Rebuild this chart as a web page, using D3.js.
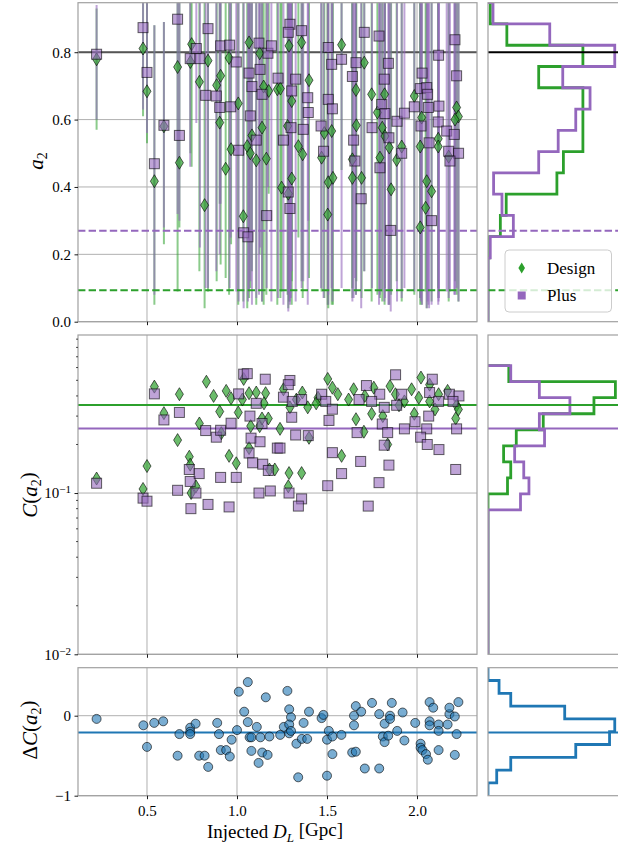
<!DOCTYPE html>
<html><head><meta charset="utf-8">
<script src="https://cdn.jsdelivr.net/npm/d3@7"></script>
<style>
html,body{margin:0;padding:0;background:#fff;}
svg text{font-family:"Liberation Serif","DejaVu Serif",serif;fill:#000;}
</style></head>
<body><svg id="c" width="618" height="852"></svg>
<script>
// ---------------- DATA ----------------
// a2 estimates: [D_L (Gpc), a2, lower end of bar, upper end of bar]
const designA2 = [
[0.22,0.779,0.57,0.93],[0.478,0.811,0.61,0.96],[0.50,0.684,0.53,0.96],[0.541,0.417,0.05,0.88],
[0.594,0.58,0.23,0.89],[0.67,0.756,0.09,0.97],[0.68,0.472,0.28,0.96],[0.748,0.824,0.46,0.96],
[0.741,0.771,0.50,0.96],[0.791,0.712,0.15,0.96],[0.82,0.346,0.04,0.96],[0.839,0.775,0.09,0.96],
[0.887,0.702,0.12,0.96],[0.909,0.73,0.17,0.96],[0.904,0.591,0.35,0.96],[0.937,0.454,0.13,0.96],
[0.956,0.783,0.08,0.96],[0.967,0.512,0.23,0.96],[1.007,0.648,0.05,0.96],[1.035,0.313,0.06,0.96],
[1.057,0.521,0.04,0.96],[1.067,0.829,0.07,0.96],[1.074,0.50,0.10,0.96],[1.107,0.479,0.05,0.96],
[1.083,0.553,0.15,0.96],[1.139,0.576,0.06,0.96],[1.163,0.484,0.08,0.96],[1.126,0.797,0.20,0.96],
[1.148,0.698,0.05,0.96],[1.176,0.685,0.38,0.96],[1.224,0.69,0.05,0.96],[1.289,0.819,0.06,0.96],
[1.359,0.829,0.12,0.96],[1.241,0.692,0.07,0.96],[1.304,0.655,0.12,0.96],[1.40,0.717,0.13,0.96],
[1.281,0.581,0.08,0.96],[1.341,0.521,0.25,0.96],[1.365,0.497,0.07,0.96],[1.248,0.398,0.09,0.96],
[1.304,0.425,0.05,0.96],[1.285,0.38,0.04,0.96],[1.581,0.822,0.45,0.96],[1.707,0.769,0.15,0.96],
[1.661,0.688,0.08,0.96],[1.748,0.675,0.06,0.96],[1.526,0.566,0.05,0.96],[1.485,0.56,0.07,0.96],
[1.470,0.487,0.09,0.96],[1.507,0.414,0.04,0.96],[1.533,0.427,0.05,0.96],[1.504,0.318,0.05,0.96],
[1.641,0.427,0.10,0.96],[1.692,0.427,0.07,0.96],[1.663,0.583,0.12,0.96],[1.641,0.482,0.07,0.96],
[1.82,0.675,0.05,0.96],[1.78,0.621,0.08,0.96],[1.807,0.576,0.06,0.96],[1.822,0.551,0.10,0.96],
[1.846,0.517,0.05,0.96],[1.794,0.487,0.07,0.96],[1.887,0.48,0.12,0.96],[1.915,0.52,0.06,0.96],
[1.856,0.393,0.08,0.96],[1.985,0.67,0.08,0.96],[2.026,0.606,0.05,0.96],[2.018,0.52,0.07,0.96],
[2.054,0.417,0.04,0.96],[2.081,0.387,0.06,0.96],[2.048,0.338,0.09,0.96],[2.018,0.28,0.05,0.96],
[2.118,0.543,0.07,0.96],[2.118,0.52,0.10,0.96],[2.22,0.636,0.08,0.96],[2.23,0.609,0.06,0.96],
[2.211,0.60,0.12,0.96],[2.176,0.49,0.06,0.96]
];
const plusA2 = [
[0.22,0.794,0.60,0.94],[0.478,0.873,0.63,0.96],[0.50,0.74,0.56,0.96],[0.541,0.469,0.08,0.88],
[0.594,0.583,0.28,0.89],[0.67,0.898,0.32,0.97],[0.68,0.553,0.30,0.96],[0.74,0.781,0.46,0.96],
[0.774,0.811,0.59,0.96],[0.794,0.781,0.22,0.96],[0.839,0.87,0.10,0.96],[0.826,0.672,0.10,0.96],
[0.885,0.67,0.15,0.96],[0.904,0.636,0.20,0.96],[0.909,0.819,0.35,0.96],[0.959,0.821,0.10,0.96],
[0.965,0.638,0.25,0.96],[0.996,0.771,0.09,0.96],[1.009,0.509,0.06,0.96],[1.037,0.264,0.04,0.96],
[1.061,0.252,0.06,0.96],[1.067,0.738,0.09,0.96],[1.083,0.698,0.05,0.96],[1.074,0.611,0.12,0.96],
[1.107,0.539,0.07,0.96],[1.128,0.749,0.22,0.96],[1.122,0.827,0.08,0.96],[1.139,0.675,0.06,0.96],
[1.165,0.315,0.10,0.96],[1.172,0.797,0.40,0.96],[1.191,0.819,0.06,0.96],[1.228,0.723,0.07,0.96],
[1.294,0.883,0.05,0.96],[1.285,0.859,0.08,0.96],[1.359,0.864,0.10,0.96],[1.326,0.72,0.06,0.96],
[1.304,0.685,0.15,0.96],[1.393,0.665,0.05,0.96],[1.396,0.621,0.30,0.96],[1.30,0.576,0.07,0.96],
[1.368,0.571,0.12,0.96],[1.258,0.539,0.05,0.96],[1.285,0.385,0.03,0.96],[1.294,0.336,0.06,0.96],
[1.507,0.814,0.05,0.96],[1.526,0.764,0.10,0.96],[1.581,0.779,0.10,0.96],[1.507,0.66,0.08,0.96],
[1.53,0.632,0.06,0.96],[1.467,0.581,0.10,0.96],[1.481,0.506,0.07,0.96],[1.707,0.859,0.15,0.96],
[1.789,0.848,0.05,0.96],[1.661,0.769,0.08,0.96],[1.641,0.728,0.06,0.96],[1.648,0.539,0.07,0.96],
[1.655,0.477,0.13,0.96],[1.69,0.365,0.04,0.96],[1.75,0.576,0.10,0.96],[1.841,0.767,0.05,0.96],
[1.818,0.72,0.06,0.96],[1.804,0.645,0.09,0.96],[1.822,0.618,0.07,0.96],[1.889,0.595,0.06,0.96],
[1.93,0.619,0.10,0.96],[1.844,0.546,0.05,0.96],[1.915,0.50,0.07,0.96],[1.794,0.457,0.08,0.96],
[1.854,0.271,0.03,0.96],[2.12,0.791,0.06,0.96],[2.211,0.837,0.08,0.96],[2.028,0.738,0.05,0.96],
[2.018,0.692,0.07,0.96],[2.054,0.695,0.04,0.96],[2.059,0.675,0.06,0.96],[1.985,0.638,0.09,0.96],
[2.063,0.636,0.05,0.96],[2.122,0.64,0.07,0.96],[2.022,0.581,0.06,0.96],[2.118,0.593,0.05,0.96],
[2.165,0.566,0.09,0.96],[2.207,0.556,0.08,0.96],[2.067,0.531,0.04,0.96],[2.176,0.506,0.07,0.96],
[2.231,0.50,0.06,0.96],[2.183,0.477,0.09,0.96],[2.081,0.30,0.05,0.96],[2.22,0.73,0.10,0.96]
];
// C(a2): [D_L, C]
const designC = [
[0.22,0.123],[0.478,0.106],[0.50,0.147],[0.541,0.457],[0.594,0.313],[0.68,0.41],[0.67,0.213],
[0.735,0.168],[0.74,0.15],[0.772,0.11],[0.745,0.10],[0.83,0.49],[0.791,0.27],[0.904,0.32],
[0.913,0.235],[0.94,0.43],[0.967,0.387],[0.956,0.17],[0.996,0.153],[1.007,0.316],[1.037,0.51],
[1.067,0.416],[1.107,0.42],[1.159,0.416],[1.076,0.26],[1.126,0.26],[1.139,0.29],[1.174,0.29],
[1.067,0.19],[1.18,0.14],[1.21,0.14],[1.258,0.44],[1.363,0.42],[1.393,0.34],[1.294,0.34],
[1.239,0.25],[1.40,0.22],[1.289,0.133],[1.359,0.133],[1.285,0.11],[1.504,0.51],[1.53,0.45],
[1.661,0.287],[1.705,0.24],[1.581,0.17],[1.648,0.44],[1.748,0.31],[1.85,0.46],[1.88,0.41],
[1.93,0.37],[1.81,0.30],[1.837,0.20],[2.022,0.52],[2.07,0.47],[2.12,0.41],[2.01,0.39],
[2.07,0.37],[1.985,0.31],[2.22,0.35],[2.215,0.29],[1.45,0.39],[1.56,0.41],[1.62,0.38],
[1.71,0.40],[1.76,0.45],[1.90,0.35],[1.97,0.44],[2.10,0.33],[2.17,0.43],[2.23,0.33],
[1.33,0.38],[1.44,0.36],[1.15,0.36],[0.87,0.40],[1.03,0.38]
];
const plusC = [
[0.22,0.115],[0.478,0.093],[0.50,0.089],[0.541,0.412],[0.594,0.284],[0.68,0.316],[0.67,0.104],
[0.735,0.140],[0.74,0.118],[0.744,0.080],[0.772,0.10],[0.79,0.132],[0.839,0.085],[0.826,0.244],
[0.885,0.222],[0.909,0.125],[0.909,0.245],[0.956,0.082],[0.967,0.271],[0.996,0.125],[1.009,0.412],
[1.037,0.546],[1.057,0.55],[1.072,0.30],[1.078,0.219],[1.128,0.208],[1.067,0.177],[1.087,0.154],
[1.143,0.151],[1.174,0.138],[1.122,0.10],[1.185,0.103],[1.157,0.508],[1.107,0.36],[1.139,0.27],
[1.224,0.19],[1.294,0.499],[1.285,0.47],[1.258,0.393],[1.307,0.37],[1.359,0.38],[1.304,0.295],
[1.326,0.229],[1.396,0.227],[1.239,0.19],[1.289,0.10],[1.359,0.092],[1.341,0.083],[1.47,0.41],
[1.493,0.37],[1.53,0.331],[1.511,0.282],[1.53,0.178],[1.581,0.132],[1.504,0.111],[1.719,0.464],
[1.678,0.38],[1.667,0.237],[1.687,0.157],[1.729,0.083],[1.881,0.541],[1.793,0.41],[1.748,0.37],
[1.818,0.34],[1.887,0.35],[1.915,0.41],[1.807,0.268],[1.837,0.237],[1.93,0.25],[1.818,0.198],
[1.844,0.149],[1.789,0.116],[2.085,0.508],[2.07,0.42],[2.18,0.41],[2.233,0.40],[2.12,0.37],
[2.20,0.37],[2.065,0.30],[1.989,0.277],[2.054,0.25],[2.22,0.25],[2.02,0.222],[2.057,0.20],
[2.122,0.186],[2.215,0.14]
];
// Delta C(a2): [D_L, dC]
const deltaC = [
[0.22,-0.04],[0.48,-0.12],[0.50,-0.39],[0.54,-0.09],[0.59,-0.07],[0.67,-0.50],[0.68,-0.23],
[0.74,-0.15],[0.74,-0.20],[0.74,-0.23],[0.77,-0.10],[0.79,-0.50],[0.82,-0.50],[0.84,-0.64],
[0.89,-0.09],[0.90,-0.23],[0.91,-0.43],[0.94,-0.43],[0.96,-0.51],[0.97,-0.30],[1.00,-0.18],
[1.01,0.30],[1.04,0.05],[1.06,0.42],[1.06,-0.08],[1.11,-0.14],[1.07,-0.27],[1.08,-0.27],
[1.13,-0.27],[1.18,-0.26],[1.08,-0.44],[1.14,-0.46],[1.17,-0.49],[1.12,-0.59],[1.16,0.23],
[1.28,0.31],[1.29,0.08],[1.30,-0.02],[1.26,-0.14],[1.29,-0.11],[1.24,-0.24],[1.29,-0.22],
[1.30,-0.19],[1.33,-0.35],[1.36,-0.29],[1.39,-0.29],[1.37,-0.09],[1.40,0.05],[1.34,-0.77],
[1.47,-0.03],[1.48,0.01],[1.51,-0.19],[1.50,-0.30],[1.53,-0.26],[1.53,-0.48],[1.50,-0.75],
[1.58,-0.24],[1.64,-0.46],[1.66,-0.45],[1.65,-0.12],[1.65,0.00],[1.66,0.12],[1.69,0.05],
[1.71,-0.66],[1.75,0.16],[1.79,-0.66],[1.79,0.02],[1.82,-0.10],[1.81,-0.26],[1.82,-0.33],
[1.84,-0.25],[1.85,0.00],[1.85,-0.04],[1.86,0.16],[1.89,-0.19],[1.92,0.04],[1.93,-0.31],
[1.99,-0.09],[2.02,-0.35],[2.02,-0.40],[2.03,-0.43],[2.05,-0.48],[2.06,-0.55],[2.07,0.17],
[2.09,0.10],[2.07,-0.07],[2.07,-0.12],[2.12,-0.11],[2.12,-0.19],[2.12,-0.43],[2.17,-0.11],
[2.18,0.02],[2.18,0.10],[2.21,-0.01],[2.23,0.17],[2.22,-0.23],[2.21,-0.49]
];
// reference lines
const a2Injected = 0.8;
const a2ThreshPlus = 0.27, a2ThreshDesign = 0.093;
const meanCDesign = 0.351, meanCPlus = 0.251, meanDeltaC = -0.21;
// histograms (bin heights, relative density)
const a2BinEdges = d3.range(16).map(i => i*0.947/15);
const histA2Design = [0,0,0,0.25,1.9,2.8,10.6,11.6,14.6,14.6,14.6,7.8,14.6,2.9,0.35];
const histA2Plus   = [0,0,0,0.35,3.9,2.15,0.86,7.8,10.8,13.5,15.7,11.5,19.5,9.5,0.77];
const cLogEdges = d3.range(19).map(i => -2 + i*1.79/18);
const histCDesign = [0,0,0,0,0,0,0,0,0,0,3.0,3.5,2.4,4.35,8.5,16.3,19.6,3.2];
const histCPlus   = [0,0,0,0,0,0,0,0,0,5.0,6.3,5.5,4.1,8.7,7.9,12.6,7.9,3.5];
const dcBinEdges = d3.range(11).map(i => -1 + i*0.16);
const histDeltaC = [0,1.34,3.5,13.5,18.7,19.5,11.8,3.5,1.7,0];
const xTicks = [0.5,1.0,1.5,2.0];
const a2Ticks = [0.0,0.2,0.4,0.6,0.8];
const cTicks = [0.01,0.1];
const dcTicks = [-1,0];
const seriesNames = ["Design","Plus"];

// ---------------- STYLE ----------------
const GREEN="#2ca02c", PURPLE="#9467bd", BLUE="#1f77b4", GRID="#b0b0b0", SPINE="#a0a0a0";
const svg = d3.select("#c");
const L=78, R=477, HL=488, HR=640;
const P1=[2.7,321.7], P2=[335,654.3], P3=[667.7,795.7];

const x = d3.scaleLinear().domain([0.1167,2.3333]).range([L,R]);
const y1 = d3.scaleLinear().domain([0,0.947]).range([P1[1],P1[0]]);
const y2 = d3.scaleLog().domain([0.01,0.955]).range([P2[1],P2[0]]);
const y3 = d3.scaleLinear().domain([-1,0.6]).range([P3[1],P3[0]]);
const hx = d3.scaleLinear().domain([0,20]).range([HL,HL+130]);

const defs = svg.append("defs");
function clip(id,x0,y0,x1,y1){defs.append("clipPath").attr("id",id).append("rect")
  .attr("x",x0).attr("y",y0).attr("width",x1-x0).attr("height",y1-y0);}
clip("c1",L,P1[0],R,P1[1]); clip("c2",L,P2[0],R,P2[1]); clip("c3",L,P3[0],R,P3[1]);
clip("h1",HL,P1[0],HR,P1[1]); clip("h2",HL,P2[0],HR,P2[1]); clip("h3",HL,P3[0],HR,P3[1]);

function grid(g, ys, yscale, top, bot){
  g.selectAll(".gx").data(xTicks).join("line").attr("x1",d=>x(d)).attr("x2",d=>x(d))
   .attr("y1",top).attr("y2",bot).attr("stroke",GRID).attr("stroke-width",1);
  g.selectAll(".gy").data(ys).join("line").attr("class","gy").attr("x1",L).attr("x2",R)
   .attr("y1",d=>yscale(d)).attr("y2",d=>yscale(d)).attr("stroke",GRID).attr("stroke-width",1);
}
function frame(x0,y0,x1,y1){
  svg.append("rect").attr("x",x0).attr("y",y0).attr("width",x1-x0).attr("height",y1-y0)
   .attr("fill","none").attr("stroke",SPINE).attr("stroke-width",1.2);
}
function xAxis(yb, labels){
  const ax = d3.axisBottom(x).tickValues(xTicks).tickSize(3.5).tickSizeOuter(0)
    .tickFormat(labels? d3.format(".1f") : "");
  const g = svg.append("g").attr("transform",`translate(0,${yb})`).call(ax);
  g.select(".domain").remove();
  g.selectAll("line").attr("stroke","#000").attr("stroke-width",0.9);
  g.selectAll("text").attr("font-size",15).attr("font-family","Liberation Serif, serif").attr("dy","0.95em");
}
function yTicks(scale, vals, fmt){
  const ax = d3.axisLeft(scale).tickValues(vals).tickSize(3.5).tickSizeOuter(0).tickFormat(fmt);
  const g = svg.append("g").attr("transform",`translate(${L},0)`).call(ax);
  g.select(".domain").remove();
  g.selectAll("line").attr("stroke","#000").attr("stroke-width",0.9);
  g.selectAll("text").attr("font-size",15).attr("font-family","Liberation Serif, serif").attr("x",-7);
  return g;
}
const diamond = (cx,cy)=>`M${cx},${cy-6.5}L${cx+4},${cy}L${cx},${cy+6.5}L${cx-4},${cy}Z`;

// ================= PANEL 1 =================
const g1 = svg.append("g");
grid(g1, a2Ticks, y1, P1[0], P1[1]);
const c1 = svg.append("g").attr("clip-path","url(#c1)");
c1.append("line").attr("x1",L).attr("x2",R).attr("y1",y1(a2Injected)).attr("y2",y1(a2Injected))
  .attr("stroke","#555").attr("stroke-width",2);
c1.selectAll(".ebd").data(designA2).join("line").attr("x1",d=>x(d[0])).attr("x2",d=>x(d[0]))
  .attr("y1",d=>y1(d[2])).attr("y2",d=>y1(d[3])).attr("stroke",GREEN).attr("stroke-opacity",0.55).attr("stroke-width",2);
c1.selectAll(".ebp").data(plusA2).join("line").attr("x1",d=>x(d[0])).attr("x2",d=>x(d[0]))
  .attr("y1",d=>y1(d[2])).attr("y2",d=>y1(d[3])).attr("stroke",PURPLE).attr("stroke-opacity",0.6).attr("stroke-width",2);
c1.append("line").attr("x1",L).attr("x2",R).attr("y1",y1(a2ThreshPlus)).attr("y2",y1(a2ThreshPlus))
  .attr("stroke",PURPLE).attr("stroke-width",2).attr("stroke-dasharray","7.4,3.2");
c1.append("line").attr("x1",L).attr("x2",R).attr("y1",y1(a2ThreshDesign)).attr("y2",y1(a2ThreshDesign))
  .attr("stroke",GREEN).attr("stroke-width",2).attr("stroke-dasharray","7.4,3.2");
c1.selectAll(".dd").data(designA2).join("path").attr("d",d=>diamond(x(d[0]),y1(d[1])))
  .attr("fill",GREEN).attr("fill-opacity",0.7).attr("stroke","#000").attr("stroke-opacity",0.6).attr("stroke-width",1);
c1.selectAll(".pp").data(plusA2).join("rect").attr("x",d=>x(d[0])-5).attr("y",d=>y1(d[1])-5)
  .attr("width",10).attr("height",10)
  .attr("fill",PURPLE).attr("fill-opacity",0.6).attr("stroke","#000").attr("stroke-opacity",0.6).attr("stroke-width",1);
frame(L,P1[0],R,P1[1]);
xAxis(P1[1], false);
yTicks(y1, a2Ticks, d3.format(".1f"));

// hist 1
const h1 = svg.append("g").attr("clip-path","url(#h1)");
function stepPath(vals, edges, yscale){
  const pts=[[0,edges[0]]];
  vals.forEach((v,i)=>{pts.push([v,edges[i]]); pts.push([v,edges[i+1]]);});
  pts.push([0,edges[edges.length-1]]);
  return d3.line().x(p=>hx(p[0])).y(p=>yscale(p[1]))(pts);
}
h1.append("path").attr("d",stepPath(histA2Design,a2BinEdges,y1)).attr("fill","none").attr("stroke",GREEN).attr("stroke-width",2.8);
h1.append("path").attr("d",stepPath(histA2Plus,a2BinEdges,y1)).attr("fill","none").attr("stroke",PURPLE).attr("stroke-width",2.8);
h1.append("line").attr("x1",HL).attr("x2",HR).attr("y1",y1(a2Injected)).attr("y2",y1(a2Injected)).attr("stroke","#000").attr("stroke-width",2);
h1.append("line").attr("x1",HL).attr("x2",HR).attr("y1",y1(a2ThreshPlus)).attr("y2",y1(a2ThreshPlus))
  .attr("stroke",PURPLE).attr("stroke-width",2).attr("stroke-dasharray","7.4,3.2");
h1.append("line").attr("x1",HL).attr("x2",HR).attr("y1",y1(a2ThreshDesign)).attr("y2",y1(a2ThreshDesign))
  .attr("stroke",GREEN).attr("stroke-width",2).attr("stroke-dasharray","7.4,3.2");
frame(HL,P1[0],HR,P1[1]);

// legend
const lg = svg.append("g");
lg.append("rect").attr("x",505).attr("y",250).attr("width",106.5).attr("height",62).attr("rx",4)
  .attr("fill","#fff").attr("fill-opacity",0.8).attr("stroke","#cccccc").attr("stroke-width",1);
lg.append("path").attr("d",`M521.7,262.5L525,268L521.7,273.5L518.4,268Z`).attr("fill",GREEN);
lg.append("rect").attr("x",517.7).attr("y",291.5).attr("width",8).attr("height",8).attr("fill",PURPLE);
lg.append("text").attr("x",547).attr("y",273.5).attr("font-size",17).text(seriesNames[0]);
lg.append("text").attr("x",547).attr("y",301).attr("font-size",17).text(seriesNames[1]);

// ================= PANEL 2 =================
const g2 = svg.append("g");
grid(g2, cTicks, y2, P2[0], P2[1]);
const c2 = svg.append("g").attr("clip-path","url(#c2)");
c2.append("line").attr("x1",L).attr("x2",R).attr("y1",y2(meanCDesign)).attr("y2",y2(meanCDesign)).attr("stroke",GREEN).attr("stroke-width",2);
c2.append("line").attr("x1",L).attr("x2",R).attr("y1",y2(meanCPlus)).attr("y2",y2(meanCPlus)).attr("stroke",PURPLE).attr("stroke-width",2);
c2.selectAll(".dd").data(designC).join("path").attr("d",d=>diamond(x(d[0]),y2(d[1])))
  .attr("fill",GREEN).attr("fill-opacity",0.7).attr("stroke","#000").attr("stroke-opacity",0.6).attr("stroke-width",1);
c2.selectAll(".pp").data(plusC).join("rect").attr("x",d=>x(d[0])-5).attr("y",d=>y2(d[1])-5)
  .attr("width",10).attr("height",10)
  .attr("fill",PURPLE).attr("fill-opacity",0.6).attr("stroke","#000").attr("stroke-opacity",0.6).attr("stroke-width",1);
frame(L,P2[0],R,P2[1]);
xAxis(P2[1], false);
// log ticks: major with labels, minor without
const gy2 = yTicks(y2, cTicks, ()=>"");
gy2.selectAll(".tick text").each(function(d){
  const t=d3.select(this); t.text("");
  t.append("tspan").text("10");
  t.append("tspan").attr("dy","-0.45em").attr("font-size",11).text(d===0.1?"−1":"−2");
});
const minor = [];
[0.01,0.1].forEach(b=>{for(let k=2;k<=9;k++){const v=b*k; if(v<=0.955) minor.push(v);}});
svg.append("g").selectAll("line").data(minor).join("line").attr("x1",L-2).attr("x2",L)
  .attr("y1",d=>y2(d)).attr("y2",d=>y2(d)).attr("stroke","#000").attr("stroke-width",0.7);
// hist 2
const h2 = svg.append("g").attr("clip-path","url(#h2)");
const logY = v=>y2(Math.pow(10,v));
const logScale = Object.assign(v=>logY(v),{});
h2.append("path").attr("d",stepPath(histCDesign,cLogEdges,logScale)).attr("fill","none").attr("stroke",GREEN).attr("stroke-width",2.8);
h2.append("path").attr("d",stepPath(histCPlus,cLogEdges,logScale)).attr("fill","none").attr("stroke",PURPLE).attr("stroke-width",2.8);
h2.append("line").attr("x1",HL).attr("x2",HR).attr("y1",y2(meanCDesign)).attr("y2",y2(meanCDesign)).attr("stroke",GREEN).attr("stroke-width",2);
h2.append("line").attr("x1",HL).attr("x2",HR).attr("y1",y2(meanCPlus)).attr("y2",y2(meanCPlus)).attr("stroke",PURPLE).attr("stroke-width",2);
frame(HL,P2[0],HR,P2[1]);

// ================= PANEL 3 =================
const g3 = svg.append("g");
grid(g3, dcTicks, y3, P3[0], P3[1]);
const c3 = svg.append("g").attr("clip-path","url(#c3)");
c3.append("line").attr("x1",L).attr("x2",R).attr("y1",y3(meanDeltaC)).attr("y2",y3(meanDeltaC)).attr("stroke",BLUE).attr("stroke-width",2.2);
c3.selectAll("circle").data(deltaC).join("circle").attr("cx",d=>x(d[0])).attr("cy",d=>y3(d[1])).attr("r",4.5)
  .attr("fill",BLUE).attr("fill-opacity",0.6).attr("stroke","#000").attr("stroke-opacity",0.6).attr("stroke-width",1);
frame(L,P3[0],R,P3[1]);
xAxis(P3[1], true);
yTicks(y3, dcTicks, d=> d<0 ? "−1" : "0");
const h3 = svg.append("g").attr("clip-path","url(#h3)");
h3.append("path").attr("d",stepPath(histDeltaC,dcBinEdges,y3)).attr("fill","none").attr("stroke",BLUE).attr("stroke-width",2.8);
h3.append("line").attr("x1",HL).attr("x2",HR).attr("y1",y3(meanDeltaC)).attr("y2",y3(meanDeltaC)).attr("stroke",BLUE).attr("stroke-width",2.2);
frame(HL,P3[0],HR,P3[1]);

// ================= LABELS =================
function ylab(cx,cy,parts){
  const t = svg.append("text").attr("transform",`translate(${cx},${cy}) rotate(-90)`)
    .attr("text-anchor","middle").attr("font-size",21);
  parts.forEach(p=>{
    const s=t.append("tspan").text(p.t);
    if(p.i) s.attr("font-style","italic");
    if(p.sub) s.attr("font-size",14).attr("dy","0.3em");
    if(p.up) s.attr("dy","-0.3em");
  });
}
ylab(43,161,[{t:"a",i:true},{t:"2",sub:true}]);
ylab(37,495,[{t:"C",i:true},{t:"(",up:false},{t:"a",i:true},{t:"2",sub:true},{t:")",up:true}]);
ylab(37,730,[{t:"Δ"},{t:"C",i:true},{t:"("},{t:"a",i:true},{t:"2",sub:true},{t:")",up:true}]);
const xl = svg.append("text").attr("x",275).attr("y",838).attr("text-anchor","middle").attr("font-size",19);
xl.append("tspan").text("Injected ");
xl.append("tspan").attr("font-style","italic").text("D");
xl.append("tspan").attr("font-style","italic").attr("font-size",13).attr("dy","0.3em").text("L");
xl.append("tspan").attr("dy","-0.3em").text(" [Gpc]");
</script></body></html>
